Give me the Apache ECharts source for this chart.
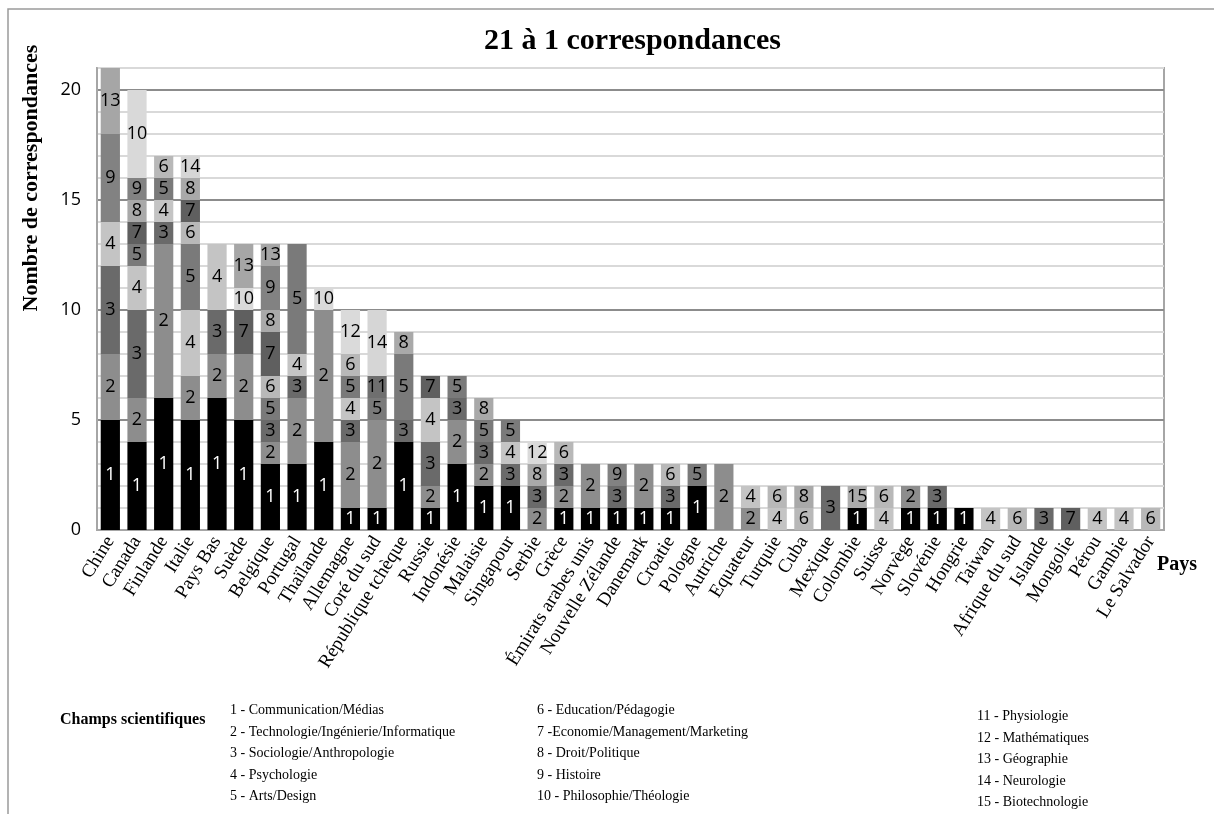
<!DOCTYPE html>
<html>
<head>
<meta charset="utf-8">
<script src="https://cdn.jsdelivr.net/npm/echarts@6/dist/echarts.min.js"></script>
<style>
  html, body { margin: 0; padding: 0; background: #fff; }
  #chart { width: 1214px; height: 814px; }
</style>
</head>
<body>
<div id="chart"></div>
<script>
// pays (axe des catégories)
const countries = [
  "Chine", "Canada", "Finlande", "Italie", "Pays Bas", "Suède", "Belgique", "Portugal",
  "Thaïlande", "Allemagne", "Coré du sud", "République tchèque", "Russie", "Indonésie",
  "Malaisie", "Singapour", "Serbie", "Grèce", "Émirats arabes unis", "Nouvelle Zélande",
  "Danemark", "Croatie", "Pologne", "Autriche", "Equateur", "Turquie", "Cuba", "Mexique",
  "Colombie", "Suisse", "Norvège", "Slovénie", "Hongrie", "Taiwan", "Afrique du sud",
  "Islande", "Mongolie", "Pérou", "Gambie", "Le Salvador"
];

// nombre de correspondances par champ scientifique (1 à 15), un tableau par champ
const field1  = [5,4,6,5,6,5,3,3,4,1,1,4,1,3,2,2,0,1,1,1,1,1,2,0,0,0,0,0,1,0,1,1,1,0,0,0,0,0,0,0];
const field2  = [3,2,7,2,2,3,1,3,6,3,4,0,1,2,1,0,1,1,2,0,2,0,0,3,1,0,0,0,0,0,1,0,0,0,0,0,0,0,0,0];
const field3  = [4,4,1,0,2,0,1,1,0,1,0,1,2,1,1,1,1,1,0,1,0,1,0,0,0,0,0,2,0,0,0,1,0,0,0,1,0,0,0,0];
const field4  = [2,2,1,3,3,0,0,1,0,1,0,0,2,0,0,1,0,0,0,0,0,0,0,0,1,1,0,0,0,1,0,0,0,1,0,0,0,1,1,0];
const field5  = [0,1,1,3,0,0,1,5,0,1,1,3,0,1,1,1,0,0,0,0,0,0,1,0,0,0,0,0,0,0,0,0,0,0,0,0,0,0,0,0];
const field6  = [0,0,1,1,0,0,1,0,0,1,0,0,0,0,0,0,0,1,0,0,0,1,0,0,0,1,1,0,0,1,0,0,0,0,1,0,0,0,0,1];
const field7  = [0,1,0,1,0,2,2,0,0,0,0,0,1,0,0,0,0,0,0,0,0,0,0,0,0,0,0,0,0,0,0,0,0,0,0,0,1,0,0,0];
const field8  = [0,1,0,1,0,0,1,0,0,0,0,1,0,0,1,0,1,0,0,0,0,0,0,0,0,0,1,0,0,0,0,0,0,0,0,0,0,0,0,0];
const field9  = [4,1,0,0,0,0,2,0,0,0,0,0,0,0,0,0,0,0,0,1,0,0,0,0,0,0,0,0,0,0,0,0,0,0,0,0,0,0,0,0];
const field10 = [0,4,0,0,0,1,0,0,1,0,0,0,0,0,0,0,0,0,0,0,0,0,0,0,0,0,0,0,0,0,0,0,0,0,0,0,0,0,0,0];
const field11 = [0,0,0,0,0,0,0,0,0,0,1,0,0,0,0,0,0,0,0,0,0,0,0,0,0,0,0,0,0,0,0,0,0,0,0,0,0,0,0,0];
const field12 = [0,0,0,0,0,0,0,0,0,2,0,0,0,0,0,0,1,0,0,0,0,0,0,0,0,0,0,0,0,0,0,0,0,0,0,0,0,0,0,0];
const field13 = [3,0,0,0,0,2,1,0,0,0,0,0,0,0,0,0,0,0,0,0,0,0,0,0,0,0,0,0,0,0,0,0,0,0,0,0,0,0,0,0];
const field14 = [0,0,0,1,0,0,0,0,0,0,3,0,0,0,0,0,0,0,0,0,0,0,0,0,0,0,0,0,0,0,0,0,0,0,0,0,0,0,0,0];
const field15 = [0,0,0,0,0,0,0,0,0,0,0,0,0,0,0,0,0,0,0,0,0,0,0,0,0,0,0,0,1,0,0,0,0,0,0,0,0,0,0,0];

const fieldNames = [
  "1 - Communication/Médias", "2 - Technologie/Ingénierie/Informatique",
  "3 - Sociologie/Anthropologie", "4 - Psychologie", "5 - Arts/Design",
  "6 - Education/Pédagogie", "7 -Economie/Management/Marketing", "8 - Droit/Politique",
  "9 - Histoire", "10 - Philosophie/Théologie", "11 - Physiologie", "12 - Mathématiques",
  "13 - Géographie", "14 - Neurologie", "15 - Biotechnologie"
];

const yTicks = [0, 5, 10, 15, 20];

const fields = [field1, field2, field3, field4, field5, field6, field7, field8,
  field9, field10, field11, field12, field13, field14, field15];
const grays = ["#000000", "#8d8d8d", "#6a6a6a", "#c4c4c4", "#7a7a7a", "#b8b8b8", "#5f5f5f",
  "#a9a9a9", "#828282", "#d9d9d9", "#6f6f6f", "#dadada", "#a6a6a6", "#d6d6d6", "#acacac"];

const SERIF = '"Liberation Serif", "Times New Roman", serif';
const SANS = '"Open Sans", "Noto Sans", sans-serif';

const chart = echarts.init(document.getElementById("chart"));

const legendText = (from, to) => fieldNames.slice(from, to).join("\n");

chart.setOption({
  animation: false,
  backgroundColor: "#fff",
  title: {
    text: "21 à 1 correspondances",
    left: 479,
    top: 21,
    textStyle: { fontFamily: SERIF, fontWeight: "bold", fontSize: 30, color: "#000" },
  },
  grid: { left: 97, right: 50, top: 68, bottom: 284, show: true, borderColor: "#a6a6a6", borderWidth: 2 },
  xAxis: {
    type: "category",
    data: countries,
    axisLine: { lineStyle: { color: "#a6a6a6", width: 2 } },
    axisTick: { show: false },
    axisLabel: { interval: 0, rotate: 58, margin: 8, fontFamily: SERIF, fontSize: 19, color: "#000" },
  },
  yAxis: {
    type: "value",
    min: 0,
    max: 21,
    interval: 1,
    axisLine: { show: true, lineStyle: { color: "#a6a6a6", width: 2 } },
    axisTick: { show: false },
    axisLabel: {
      margin: 16,
      fontFamily: SANS,
      fontSize: 18,
      color: "#000",
      formatter: (v) => (yTicks.includes(v) ? String(v) : ""),
    },
    splitLine: {
      lineStyle: { width: 2, color: ["#8c8c8c", "#d9d9d9", "#d9d9d9", "#d9d9d9", "#d9d9d9"] },
    },
  },
  series: fields.map((values, k) => ({
    name: fieldNames[k],
    type: "bar",
    stack: "total",
    data: values,
    barCategoryGap: "28%",
    itemStyle: { color: grays[k] },
    label: {
      show: true,
      position: "inside",
      fontFamily: SANS,
      fontSize: 18,
      color: k === 0 ? "#fff" : "#000",
      formatter: (p) => (p.value ? String(k + 1) : ""),
    },
  })),
  graphic: [
    {
      type: "rect",
      silent: true,
      shape: { x: 8, y: 9, width: 1300, height: 900 },
      style: { fill: "none", stroke: "#9a9a9a", lineWidth: 1.5 },
    },
    {
      type: "text",
      x: 31,
      y: 178,
      rotation: Math.PI / 2,
      style: {
        text: "Nombre de correspondances",
        align: "center",
        verticalAlign: "middle",
        font: "bold 22px " + SERIF,
        fill: "#000",
      },
    },
    {
      type: "text",
      x: 1157,
      y: 565,
      style: { text: "Pays", font: "bold 20px " + SERIF, fill: "#000", verticalAlign: "middle" },
    },
    {
      type: "text",
      x: 60,
      y: 720,
      style: { text: "Champs scientifiques", font: "bold 16px " + SERIF, fill: "#000", verticalAlign: "middle" },
    },
    {
      type: "text",
      x: 230,
      y: 700,
      style: { text: legendText(0, 5), font: "14px " + SERIF, lineHeight: 21.5, fill: "#000" },
    },
    {
      type: "text",
      x: 537,
      y: 700,
      style: { text: legendText(5, 10), font: "14px " + SERIF, lineHeight: 21.5, fill: "#000" },
    },
    {
      type: "text",
      x: 977,
      y: 706,
      style: { text: legendText(10, 15), font: "14px " + SERIF, lineHeight: 21.5, fill: "#000" },
    },
  ],
});
</script>
</body>
</html>
